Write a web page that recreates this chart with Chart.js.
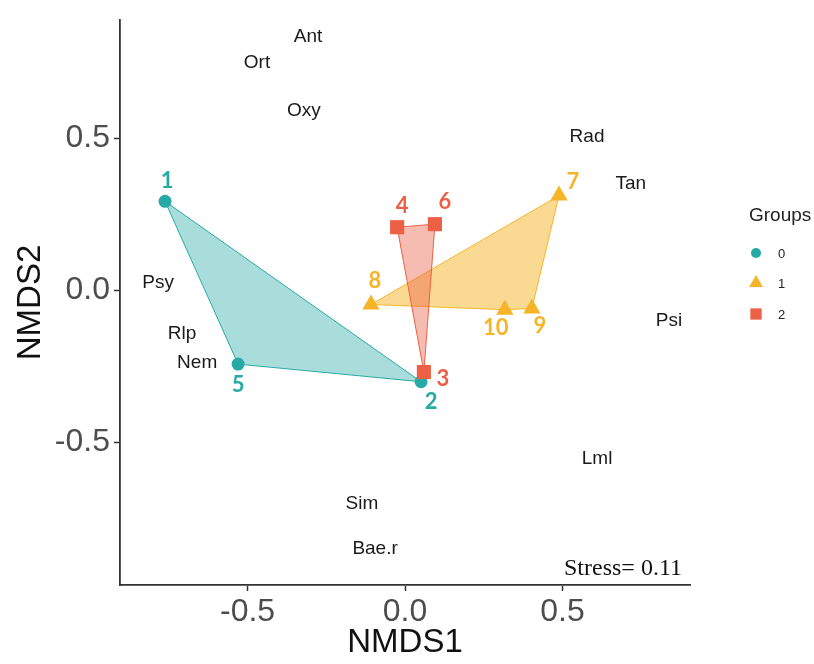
<!DOCTYPE html>
<html>
<head>
<meta charset="utf-8">
<script src="https://cdn.jsdelivr.net/npm/chart.js@4.4.1/dist/chart.umd.min.js"></script>
<style>
  html, body { margin: 0; padding: 0; background: #ffffff; }
  #wrap { width: 814px; height: 664px; }
</style>
</head>
<body>
<div id="wrap"><canvas id="c" width="814" height="664"></canvas></div>
<script>
// NMDS site scores
const siteLabels = ['1', '2', '3', '4', '5', '6', '7', '8', '9', '10'];
const siteX = [-0.762, 0.051, 0.060, -0.025, -0.530, 0.095, 0.489, -0.108, 0.403, 0.317];
const siteY = [0.292, -0.301, -0.269, 0.207, -0.243, 0.217, 0.311, -0.047, -0.060, -0.064];
const siteGroup = [0, 0, 2, 2, 0, 2, 1, 1, 1, 1];
const groupNames = ['0', '1', '2'];

// NMDS species scores
const speciesNames = ['Ant', 'Ort', 'Oxy', 'Rad', 'Tan', 'Psy', 'Rlp', 'Nem', 'Psi', 'Lml', 'Sim', 'Bae.r'];
const speciesX = [-0.308, -0.470, -0.321, 0.578, 0.717, -0.784, -0.708, -0.660, 0.838, 0.610, -0.137, -0.095];
const speciesY = [0.832, 0.746, 0.591, 0.503, 0.350, 0.024, -0.142, -0.239, -0.100, -0.555, -0.702, -0.849];

const xTicks = [-0.5, 0.0, 0.5];
const yTicks = [-0.5, 0.0, 0.5];
const stressValue = 0.11;

// styling
const groupColors = ['#27A9A5', '#F6B528', '#EC6046'];
const groupFills = ['rgba(39,169,165,0.40)', 'rgba(246,181,40,0.50)', 'rgba(236,96,70,0.42)'];
const groupShapes = ['circle', 'triangle', 'rect'];
const groupRadius = [6.5, 10, 10];
const pointLayer = [2, 1, 0];
// where each site's number sits relative to its marker (px)
const labelNudge = {
  '1': [2, -20], '2': [10, 20], '3': [19, 7], '4': [5, -21], '5': [0, 21],
  '6': [10, -22], '7': [14, -14], '8': [4, -24], '9': [8, 17], '10': [-9, 18]
};

function hull(pts) {
  const p = pts.slice().sort((a, b) => a.x - b.x || a.y - b.y);
  const cross = (o, a, b) => (a.x - o.x) * (b.y - o.y) - (a.y - o.y) * (b.x - o.x);
  const lower = [], upper = [];
  for (const q of p) {
    while (lower.length >= 2 && cross(lower[lower.length - 2], lower[lower.length - 1], q) <= 0) lower.pop();
    lower.push(q);
  }
  for (let i = p.length - 1; i >= 0; i--) {
    const q = p[i];
    while (upper.length >= 2 && cross(upper[upper.length - 2], upper[upper.length - 1], q) <= 0) upper.pop();
    upper.push(q);
  }
  upper.pop(); lower.pop();
  return lower.concat(upper);
}

const datasets = [];
groupNames.forEach((g, gi) => {
  const pts = [];
  siteLabels.forEach((s, i) => { if (siteGroup[i] === gi) pts.push({ x: siteX[i], y: siteY[i], site: s }); });
  const h = hull(pts);
  h.push(h[0]);
  datasets.push({
    label: 'hull ' + g,
    data: h,
    showLine: true,
    fill: 'shape',
    backgroundColor: groupFills[gi],
    borderColor: groupColors[gi],
    borderWidth: 1,
    pointRadius: 0,
    tension: 0,
    order: 12 - gi
  });
  datasets.push({
    label: g,
    data: pts,
    showLine: false,
    pointStyle: groupShapes[gi],
    pointRadius: groupRadius[gi],
    pointBackgroundColor: groupColors[gi],
    pointBorderColor: groupColors[gi],
    pointBorderWidth: 0,
    order: pointLayer[gi]
  });
});

const textPlugin = {
  id: 'ordiText',
  afterDatasetsDraw(chart) {
    const { ctx, scales: { x, y } } = chart;
    ctx.save();
    ctx.textAlign = 'center';
    ctx.textBaseline = 'middle';
    // species names
    ctx.fillStyle = '#1a1a1a';
    ctx.font = '19px "Liberation Sans", Arial, sans-serif';
    speciesNames.forEach((n, i) => {
      ctx.fillText(n, x.getPixelForValue(speciesX[i]), y.getPixelForValue(speciesY[i]));
    });
    // site numbers
    ctx.font = 'bold 22px Lato, "Open Sans", sans-serif';
    siteLabels.forEach((s, i) => {
      const d = labelNudge[s];
      ctx.fillStyle = groupColors[siteGroup[i]];
      ctx.fillText(s, x.getPixelForValue(siteX[i]) + d[0], y.getPixelForValue(siteY[i]) + d[1]);
    });
    // stress annotation
    ctx.fillStyle = '#111';
    ctx.textAlign = 'right';
    ctx.textBaseline = 'alphabetic';
    ctx.font = '24px "Liberation Serif", "Times New Roman", serif';
    ctx.fillText('Stress= ' + stressValue.toFixed(2), chart.chartArea.right - 8, chart.chartArea.bottom - 10);
    ctx.restore();
  }
};

const legendPlugin = {
  id: 'groupLegend',
  afterDraw(chart) {
    const ctx = chart.ctx;
    const left = chart.chartArea.right + 59;
    ctx.save();
    ctx.fillStyle = '#222';
    ctx.textAlign = 'left';
    ctx.textBaseline = 'middle';
    ctx.font = '19px "Liberation Sans", Arial, sans-serif';
    ctx.fillText('Groups', left, 216);
    const rows = [253, 283, 314];
    const legendRadius = [5, 8, 8];
    groupNames.forEach((g, gi) => {
      ctx.fillStyle = groupColors[gi];
      ctx.strokeStyle = groupColors[gi];
      Chart.helpers.drawPoint(ctx, { pointStyle: groupShapes[gi], radius: legendRadius[gi], rotation: 0, borderWidth: 0 }, left + 7, rows[gi]);
      ctx.fillStyle = '#222';
      ctx.font = '13px "Liberation Sans", Arial, sans-serif';
      ctx.fillText(g, left + 29, rows[gi] + 1);
    });
    ctx.restore();
  }
};

const axisColor = '#333333';
const tickFont = { family: '"Liberation Sans", Arial, sans-serif', size: 32, lineHeight: 1 };
const titleFont = { family: '"Liberation Sans", Arial, sans-serif', size: 33, lineHeight: 1 };

new Chart(document.getElementById('c'), {
  type: 'scatter',
  data: { datasets },
  options: {
    responsive: false,
    devicePixelRatio: 1,
    animation: false,
    layout: { padding: { left: 0, top: 15, right: 124, bottom: 0 } },
    plugins: { legend: { display: false }, tooltip: { enabled: false } },
    scales: {
      x: {
        type: 'linear',
        min: -0.905, max: 0.905,
        afterFit: s => { s.height = 79; },
        afterBuildTicks: s => { s.ticks = xTicks.map(v => ({ value: v })); },
        grid: { drawOnChartArea: false, drawTicks: true, tickLength: 6, color: axisColor, tickWidth: 1.5 },
        border: { display: true, color: axisColor, width: 1.8 },
        ticks: { color: '#4D4D4D', font: tickFont, padding: 5, maxRotation: 0, callback: v => v.toFixed(1) },
        title: { display: true, text: 'NMDS1', color: '#111', font: titleFont, padding: { top: 0, bottom: 5 } }
      },
      y: {
        type: 'linear',
        min: -0.969, max: 0.888,
        afterFit: s => { s.width = 120; },
        afterBuildTicks: s => { s.ticks = yTicks.map(v => ({ value: v })); },
        grid: { drawOnChartArea: false, drawTicks: true, tickLength: 6, color: axisColor, tickWidth: 1.5 },
        border: { display: true, color: axisColor, width: 1.8 },
        ticks: { color: '#4D4D4D', font: tickFont, padding: 4, callback: v => v.toFixed(1) },
        title: { display: true, text: 'NMDS2', color: '#111', font: titleFont, padding: { top: 14, bottom: 0 } }
      }
    }
  },
  plugins: [textPlugin, legendPlugin]
});
</script>
</body>
</html>
